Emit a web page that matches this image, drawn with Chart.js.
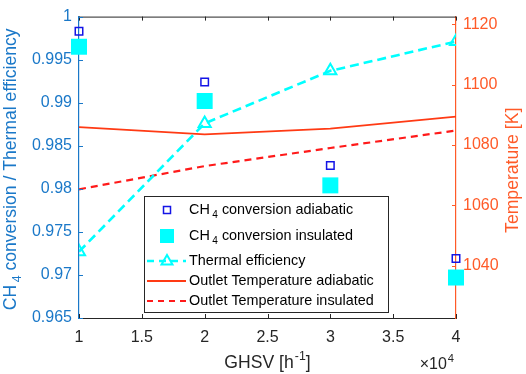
<!DOCTYPE html>
<html>
<head>
<meta charset="utf-8">
<script src="https://cdn.jsdelivr.net/npm/chart.js@4.4.0/dist/chart.umd.min.js"></script>
<style>
  html, body { margin: 0; padding: 0; background: #fff; }
</style>
</head>
<body>
<canvas id="c" width="526" height="374"></canvas>
<script>
// GHSV in units of 1e4 h^-1
const ghsv = [1, 2, 3, 4];
const ch4Adiabatic = [0.9983, 0.9924, 0.9827, 0.9719];
const ch4Insulated = [0.9965, 0.9902, 0.9804, 0.9697];
const thermalEff = [0.9727, 0.9876, 0.9937, 0.9971];
const tempAdiabatic = [1085.9, 1083.5, 1085.4, 1089.4];
const tempInsulated = [1065.3, 1073.0, 1079.0, 1084.8];

const xTicks = [1, 1.5, 2, 2.5, 3, 3.5, 4];
const leftTicks = [0.965, 0.97, 0.975, 0.98, 0.985, 0.99, 0.995, 1];
const rightTicks = [1040, 1060, 1080, 1100, 1120];

const legendLabels = [
  "CH_{4} conversion adiabatic",
  "CH_{4} conversion insulated",
  "Thermal efficiency",
  "Outlet Temperature adiabatic",
  "Outlet Temperature insulated",
];
const xTitle = "GHSV [h^{-1}]";
const xExponent = "\u00d710^{4}";
const leftTitle = "CH_{4} conversion / Thermal efficiency";
const rightTitle = "Temperature [K]";

const FONT = "'Liberation Sans', Arial, Helvetica, sans-serif";
const AXIS_K = "#262626";
const LEFT_C = "#1A78C8";
const RIGHT_C = "#FF5A28";
const BLUE_M = "#1414E6";
const CYAN = "#00FFFF";
const RED_S = "#FF3A14";
const RED_D = "#FF1A1A";

// minimal TeX-like text: _{sub} and ^{sup}
function parseRich(str) {
  const segs = [];
  const re = /([_^])\{([^}]*)\}/g;
  let last = 0, m;
  while ((m = re.exec(str))) {
    if (m.index > last) segs.push({ t: str.slice(last, m.index), mode: "" });
    segs.push({ t: m[2], mode: m[1] });
    last = re.lastIndex;
  }
  if (last < str.length) segs.push({ t: str.slice(last), mode: "" });
  return segs;
}

function drawRich(ctx, str, x, y, size, align) {
  const segs = parseRich(str);
  const small = size * 0.7;
  let w = 0;
  segs.forEach((s) => {
    ctx.font = `${s.mode ? small : size}px ${FONT}`;
    s.pad = s.mode === "_" ? 2.5 : s.mode === "^" ? 1 : 0;
    s.w = ctx.measureText(s.t).width + s.pad;
    w += s.w;
  });
  let cx = align === "center" ? x - w / 2 : align === "right" ? x - w : x;
  ctx.textAlign = "left";
  ctx.textBaseline = "middle";
  segs.forEach((s) => {
    ctx.font = `${s.mode ? small : size}px ${FONT}`;
    const dy = s.mode === "_" ? size * 0.36 : s.mode === "^" ? -size * 0.36 : 0;
    ctx.fillText(s.t, cx + s.pad, y + dy);
    cx += s.w;
  });
}

const decorPlugin = {
  id: "decor",
  afterDraw(chart) {
    const { ctx, chartArea: a, scales } = chart;
    ctx.save();

    // top frame line
    ctx.strokeStyle = AXIS_K;
    ctx.lineWidth = 1;
    ctx.beginPath();
    ctx.moveTo(a.left, a.top + 0.5);
    ctx.lineTo(a.right, a.top + 0.5);
    ctx.stroke();

    // inward ticks
    const TL = 4;
    xTicks.forEach((v) => {
      const px = Math.round(scales.x.getPixelForValue(v)) + 0.5;
      ctx.beginPath();
      ctx.moveTo(px, a.bottom); ctx.lineTo(px, a.bottom - TL);
      ctx.moveTo(px, a.top); ctx.lineTo(px, a.top + TL);
      ctx.stroke();
    });
    ctx.strokeStyle = LEFT_C;
    leftTicks.forEach((v) => {
      const py = Math.round(scales.y.getPixelForValue(v)) + 0.5;
      ctx.beginPath();
      ctx.moveTo(a.left, py); ctx.lineTo(a.left + TL, py);
      ctx.stroke();
    });
    ctx.strokeStyle = RIGHT_C;
    rightTicks.forEach((v) => {
      const py = Math.round(scales.y1.getPixelForValue(v)) + 0.5;
      ctx.beginPath();
      ctx.moveTo(a.right, py); ctx.lineTo(a.right - TL, py);
      ctx.stroke();
    });

    // axis titles
    ctx.fillStyle = AXIS_K;
    drawRich(ctx, xTitle, (a.left + a.right) / 2, 363, 17.6, "center");
    drawRich(ctx, xExponent, a.right - 2, 365, 16, "right");

    ctx.save();
    ctx.translate(11, (a.top + a.bottom) / 2 + 2);
    ctx.rotate(-Math.PI / 2);
    ctx.fillStyle = LEFT_C;
    drawRich(ctx, leftTitle, 0, 0, 17.6, "center");
    ctx.restore();

    ctx.save();
    ctx.translate(513, (a.top + a.bottom) / 2 + 3);
    ctx.rotate(-Math.PI / 2);
    ctx.fillStyle = RIGHT_C;
    drawRich(ctx, rightTitle, 0, 0, 17.6, "center");
    ctx.restore();

    // legend
    const bx = 144.5, by = 196.5, bw = 244, bh = 116;
    ctx.fillStyle = "#fff";
    ctx.fillRect(bx, by, bw, bh);
    ctx.strokeStyle = AXIS_K;
    ctx.lineWidth = 1;
    ctx.strokeRect(bx, by, bw, bh);

    const rows = [210, 236, 261, 281, 301];
    const mx = 167;
    // row 0: open blue square
    ctx.strokeStyle = BLUE_M;
    ctx.lineWidth = 1.5;
    ctx.strokeRect(mx - 3.5, rows[0] - 3.5, 7, 7);
    // row 1: filled cyan square
    ctx.fillStyle = CYAN;
    ctx.fillRect(mx - 7, rows[1] - 7, 14, 14);
    // row 2: dashed cyan with triangle
    ctx.strokeStyle = CYAN;
    ctx.lineWidth = 2.5;
    ctx.setLineDash([7, 5]);
    ctx.beginPath();
    ctx.moveTo(147, rows[2]); ctx.lineTo(186, rows[2]);
    ctx.stroke();
    ctx.setLineDash([]);
    ctx.lineWidth = 2;
    ctx.beginPath();
    ctx.moveTo(mx, rows[2] - 6);
    ctx.lineTo(mx + 5.5, rows[2] + 3.5);
    ctx.lineTo(mx - 5.5, rows[2] + 3.5);
    ctx.closePath();
    ctx.stroke();
    // row 3: solid red
    ctx.strokeStyle = RED_S;
    ctx.lineWidth = 1.8;
    ctx.beginPath();
    ctx.moveTo(147, rows[3]); ctx.lineTo(186, rows[3]);
    ctx.stroke();
    // row 4: dashed red
    ctx.strokeStyle = RED_D;
    ctx.lineWidth = 2;
    ctx.setLineDash([6, 5]);
    ctx.beginPath();
    ctx.moveTo(147, rows[4]); ctx.lineTo(186, rows[4]);
    ctx.stroke();
    ctx.setLineDash([]);

    ctx.fillStyle = "#000";
    legendLabels.forEach((lab, i) => {
      drawRich(ctx, lab, 189, rows[i], 14.4, "left");
    });

    ctx.restore();
  },
};

const fixedTicks = (vals) => (scale) => {
  scale.ticks = vals.map((v) => ({ value: v }));
};

new Chart(document.getElementById("c"), {
  type: "line",
  data: {
    labels: ghsv,
    datasets: [
      {
        label: legendLabels[0],
        data: ghsv.map((x, i) => ({ x, y: ch4Adiabatic[i] })),
        yAxisID: "y",
        showLine: false,
        pointStyle: "rect",
        pointRadius: 5.3,
        pointBorderWidth: 1.5,
        pointBorderColor: BLUE_M,
        pointBackgroundColor: "rgba(0,0,0,0)",
        borderColor: BLUE_M,
        clip: false,
        order: 1,
      },
      {
        label: legendLabels[1],
        data: ghsv.map((x, i) => ({ x, y: ch4Insulated[i] })),
        yAxisID: "y",
        showLine: false,
        pointStyle: "rect",
        pointRadius: 11.3,
        pointBorderWidth: 0,
        pointBackgroundColor: CYAN,
        borderColor: CYAN,
        clip: false,
        order: 2,
      },
      {
        label: legendLabels[2],
        data: ghsv.map((x, i) => ({ x, y: thermalEff[i] })),
        yAxisID: "y",
        borderColor: CYAN,
        borderWidth: 2.6,
        borderDash: [9, 5],
        tension: 0,
        pointStyle: "triangle",
        pointRadius: 7,
        pointBorderWidth: 2,
        pointBorderColor: CYAN,
        pointBackgroundColor: "rgba(0,0,0,0)",
        order: 3,
      },
      {
        label: legendLabels[3],
        data: ghsv.map((x, i) => ({ x, y: tempAdiabatic[i] })),
        yAxisID: "y1",
        borderColor: RED_S,
        borderWidth: 1.8,
        tension: 0,
        pointRadius: 0,
        order: 4,
      },
      {
        label: legendLabels[4],
        data: ghsv.map((x, i) => ({ x, y: tempInsulated[i] })),
        yAxisID: "y1",
        borderColor: RED_D,
        borderWidth: 2.2,
        borderDash: [7, 5],
        tension: 0,
        pointRadius: 0,
        order: 5,
      },
    ],
  },
  options: {
    responsive: false,
    animation: false,
    devicePixelRatio: 1,
    layout: { padding: { top: 7, left: 0, right: 0, bottom: 0 } },
    plugins: { legend: { display: false }, tooltip: { enabled: false } },
    scales: {
      x: {
        type: "linear",
        position: "bottom",
        min: 1,
        max: 4,
        afterBuildTicks: fixedTicks(xTicks),
        afterFit: (s) => { s.height = 56; },
        grid: { display: false, drawTicks: false },
        border: { display: true, color: AXIS_K, width: 1 },
        ticks: {
          color: AXIS_K,
          font: { family: FONT, size: 16 },
          padding: 10,
          maxRotation: 0,
          callback: (v) => String(v),
        },
      },
      y: {
        type: "linear",
        position: "left",
        min: 0.965,
        max: 1,
        afterBuildTicks: fixedTicks(leftTicks),
        afterFit: (s) => { s.width = 79; },
        grid: { display: false, drawTicks: false },
        border: { display: true, color: LEFT_C, width: 1.2 },
        ticks: {
          color: LEFT_C,
          font: { family: FONT, size: 16 },
          padding: 7,
          callback: (v) => String(+v.toFixed(3)),
        },
      },
      y1: {
        type: "linear",
        position: "right",
        min: 1022.6,
        max: 1122.6,
        afterBuildTicks: fixedTicks(rightTicks),
        afterFit: (s) => { s.width = 70; },
        grid: { display: false, drawTicks: false },
        border: { display: true, color: RIGHT_C, width: 1.2 },
        ticks: {
          color: RIGHT_C,
          font: { family: FONT, size: 16 },
          padding: 7,
          callback: (v) => String(v),
        },
      },
    },
  },
  plugins: [decorPlugin],
});
</script>
</body>
</html>
